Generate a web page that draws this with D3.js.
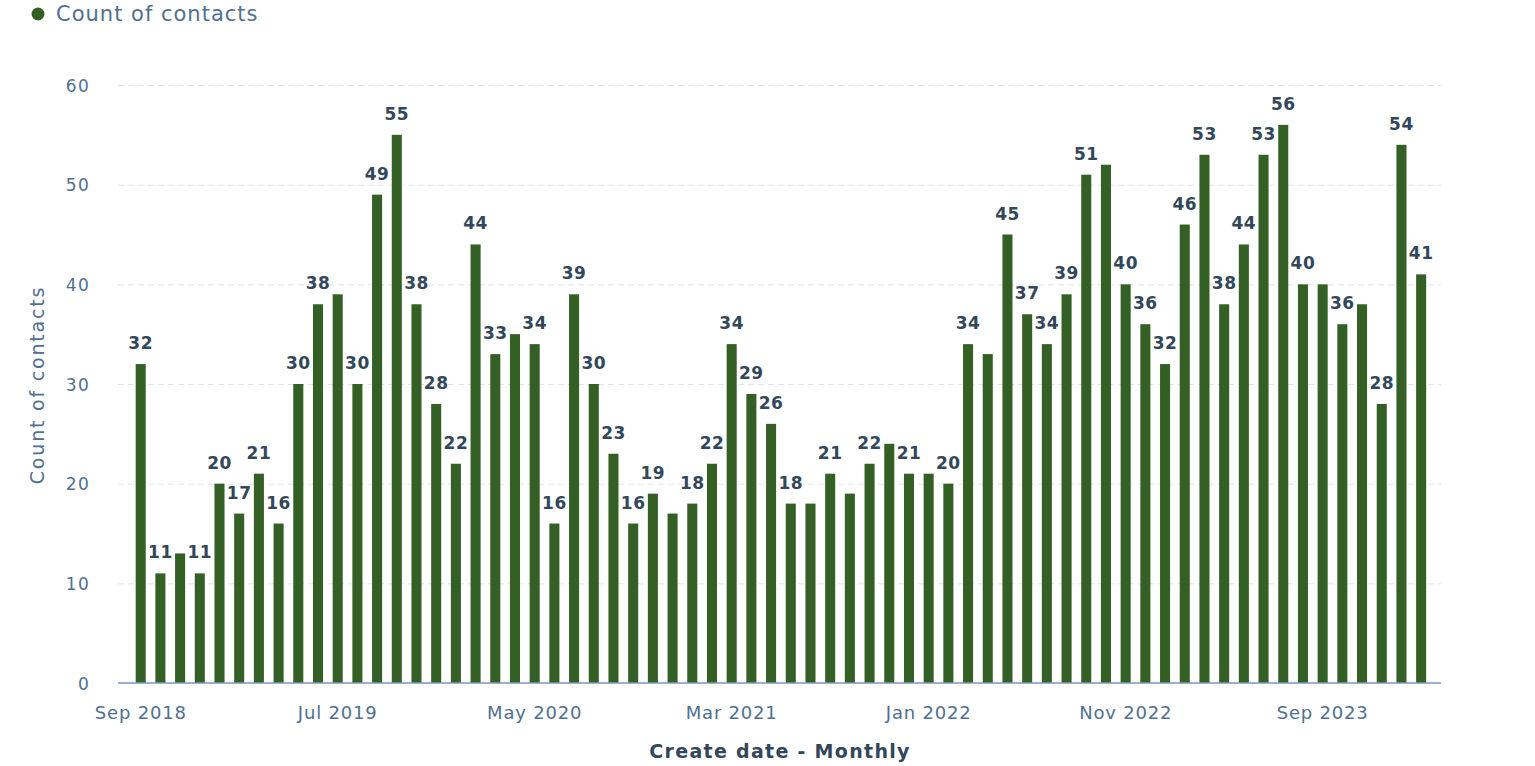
<!DOCTYPE html>
<html>
<head>
<meta charset="utf-8">
<title>Count of contacts</title>
<script src="https://cdn.jsdelivr.net/npm/d3@7"></script>
<style>
    body { margin: 0; background: #ffffff; }
    text { font-family: "DejaVu Sans", sans-serif; }
    .tick text { fill: #516f90; font-size: 17px; letter-spacing: 1.3px; }
    .xAxis .tick text { font-size: 18px; letter-spacing: 0.8px; }
    .gridLines .tick line { stroke: #dfe3eb; stroke-dasharray: 6,4; stroke-width: 1; }
    .domain { display: none; }
    .barLabel { fill: #33475b; font-size: 17px; font-weight: bold; letter-spacing: 0.5px; }
    .axisTitle { fill: #33475b; font-size: 19px; font-weight: bold; letter-spacing: 1.3px; }
    .yTitle { fill: #516f90; font-size: 19px; letter-spacing: 1.8px; }
    .legendText { fill: #516f90; font-size: 21px; letter-spacing: 1px; }
</style>
</head>
<body>
<script>
(function(){

    //pseudo-global variables
    var startMonth = new Date(2018, 8, 1), endMonth = new Date(2024, 2, 1); //Sep 2018 to Feb 2024
    var months = d3.timeMonth.range(startMonth, endMonth); //categories
    var contacts = [32, 11, 13, 11, 20, 17, 21, 16, 30, 38,
                    39, 30, 49, 55, 38, 28, 22, 44, 33, 35,
                    34, 16, 39, 30, 23, 16, 19, 17, 18, 22,
                    34, 29, 26, 18, 18, 21, 19, 22, 24, 21,
                    21, 20, 34, 33, 45, 37, 34, 39, 51, 52,
                    40, 36, 32, 46, 53, 38, 44, 53, 56, 40,
                    40, 36, 38, 28, 54, 41]; //count of contacts per month
    var xTickLabels = ["Sep 2018", "Jul 2019", "May 2020", "Mar 2021", "Jan 2022", "Nov 2022", "Sep 2023"];
    var yTicks = [0, 10, 20, 30, 40, 50, 60];
    var seriesName = "Count of contacts";

    var fmt = d3.timeFormat("%b %Y");

    window.onload = setChart();

    function setChart(){
        var width = 1535,
            height = 766,
            plotLeft = 118,
            plotRight = 1441,
            plotTop = 85,
            plotBottom = 683;

        var svg = d3.select("body")
            .append("svg")
            .attr("width", width)
            .attr("height", height);

        //scales
        var xScale = d3.scaleBand()
            .domain(months.map(fmt))
            .range([130.85, 1431])
            .paddingInner(0.49)
            .paddingOuter(0.245);

        var yScale = d3.scaleLinear()
            .domain([0, 60])
            .range([plotBottom, plotTop]);

        //dashed gridlines
        var grid = svg.append("g")
            .attr("class", "gridLines")
            .attr("transform", "translate(" + plotLeft + ",0)")
            .call(d3.axisLeft(yScale)
                .tickValues(yTicks.slice(1))
                .tickSize(-(plotRight - plotLeft))
                .tickFormat(""));

        //y axis labels
        var yAxis = svg.append("g")
            .attr("class", "axis")
            .attr("transform", "translate(" + (plotLeft - 28) + ",0)")
            .call(d3.axisLeft(yScale)
                .tickValues(yTicks)
                .tickSize(0)
                .tickPadding(0));
        yAxis.selectAll("text").attr("dy", "0.36em");

        //bars
        var bars = svg.selectAll(".bar")
            .data(contacts)
            .enter()
            .append("rect")
            .attr("class", "bar")
            .attr("x", function(d, i){ return xScale(fmt(months[i])); })
            .attr("width", xScale.bandwidth())
            .attr("y", function(d){ return yScale(d); })
            .attr("height", function(d){ return plotBottom - yScale(d); })
            .style("fill", "#345f25");

        //baseline
        svg.append("line")
            .attr("x1", plotLeft)
            .attr("x2", plotRight)
            .attr("y1", yScale(0))
            .attr("y2", yScale(0))
            .style("stroke", "#7c98b6")
            .style("stroke-width", 1.5);

        //x axis labels
        var xAxis = svg.append("g")
            .attr("class", "xAxis")
            .attr("transform", "translate(0," + (plotBottom + 36) + ")")
            .call(d3.axisBottom(xScale)
                .tickValues(xTickLabels)
                .tickSize(0)
                .tickPadding(0));
        xAxis.selectAll("text").attr("dy", "0");

        //data labels, hide the ones that overlap an already shown label (left to right)
        var shown = [];
        var labels = svg.selectAll(".barLabel")
            .data(contacts)
            .enter()
            .append("text")
            .attr("class", "barLabel")
            .attr("text-anchor", "middle")
            .attr("x", function(d, i){ return xScale(fmt(months[i])) + xScale.bandwidth() / 2; })
            .attr("y", function(d){ return yScale(d) - 15; })
            .text(function(d){ return d; })
            .each(function(){
                var b = this.getBBox(), pad = 3;
                var box = { x1: b.x - pad, x2: b.x + b.width + pad, y1: b.y - pad, y2: b.y + b.height + pad };
                var hit = shown.some(function(s){
                    return box.x1 < s.x2 && box.x2 > s.x1 && box.y1 < s.y2 && box.y2 > s.y1;
                });
                if (hit){
                    d3.select(this).remove();
                } else {
                    shown.push(box);
                };
            });

        //x axis title
        svg.append("text")
            .attr("class", "axisTitle")
            .attr("x", 780)
            .attr("y", 758)
            .attr("text-anchor", "middle")
            .text("Create date - Monthly");

        //y axis title
        svg.append("text")
            .attr("class", "yTitle")
            .attr("transform", "translate(44,385) rotate(-90)")
            .attr("text-anchor", "middle")
            .text(seriesName);

        //legend
        svg.append("circle")
            .attr("cx", 38)
            .attr("cy", 14)
            .attr("r", 6.5)
            .style("fill", "#345f25");

        svg.append("text")
            .attr("class", "legendText")
            .attr("x", 56)
            .attr("y", 21)
            .text(seriesName);
    };

})();
</script>
</body>
</html>
